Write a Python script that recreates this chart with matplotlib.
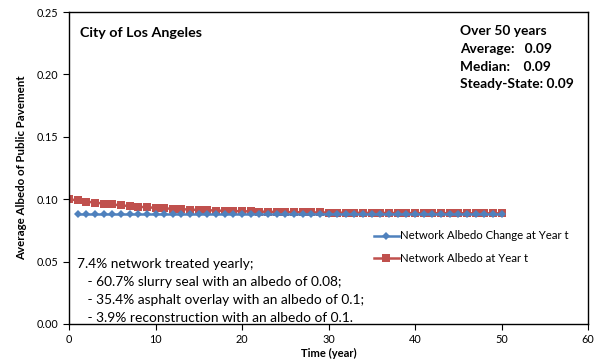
import matplotlib
matplotlib.use("Agg")
import matplotlib.pyplot as plt
from matplotlib.ticker import MultipleLocator, FormatStrFormatter

plt.rcParams['font.family'] = ['Lato', 'DejaVu Sans']

years_red = list(range(0, 51))
albedo_red = [0.1000, 0.0990, 0.0981, 0.0973, 0.0965, 0.0958, 0.0951, 0.0945, 0.0940, 0.0935,
              0.0931, 0.0927, 0.0923, 0.0920, 0.0917, 0.0914, 0.0912, 0.0909, 0.0907, 0.0905,
              0.0904, 0.0902, 0.0901, 0.0899, 0.0898, 0.0897, 0.0896, 0.0895, 0.0894, 0.0894,
              0.0893, 0.0892, 0.0892, 0.0891, 0.0891, 0.0890, 0.0890, 0.0890, 0.0889, 0.0889,
              0.0889, 0.0888, 0.0888, 0.0888, 0.0888, 0.0888, 0.0887, 0.0887, 0.0887, 0.0887,
              0.0887]
years_blue = list(range(1, 51))
albedo_blue = [0.0880] * 50

label_blue = "Network Albedo Change at Year t"
label_red = "Network Albedo at Year t"
x_ticks = [0, 10, 20, 30, 40, 50, 60]

fig = plt.figure(figsize=(5.96, 3.64), dpi=100)
ax = fig.add_axes([0.1158, 0.1099, 0.8708, 0.857])

ax.plot(years_blue, albedo_blue, color='#4F81BD', lw=1.8, marker='D', ms=4.0,
        markeredgewidth=0, label=label_blue, zorder=3)
ax.plot(years_red, albedo_red, color='#C0504D', lw=1.8, marker='s', ms=5.6,
        markeredgewidth=0, label=label_red, zorder=2)

ax.set_xlim(0, 60)
ax.set_ylim(0, 0.25)
ax.set_xticks(x_ticks)
ax.yaxis.set_major_locator(MultipleLocator(0.05))
ax.yaxis.set_major_formatter(FormatStrFormatter('%.2f'))
ax.tick_params(axis='both', direction='out', length=4, width=0.8, labelsize=7.8, colors='black')
ax.tick_params(axis='x', pad=3)
for s in ax.spines.values():
    s.set_linewidth(1.0)
    s.set_color('black')

ax.set_xlabel('Time (year)', fontsize=8, fontweight='bold', labelpad=2)
ax.set_ylabel('Average Albedo of Public Pavement', fontsize=8.3, fontweight='bold', labelpad=7)

ax.text(0.021, 0.933, 'City of Los Angeles', transform=ax.transAxes, fontsize=10.3,
        fontweight='bold', va='center', ha='left')
right_lines = ['Over 50 years', 'Average:   0.09', 'Median:    0.09', 'Steady-State: 0.09']
for i, t in enumerate(right_lines):
    ax.text(0.754, 0.938 - i * 0.0567, t, transform=ax.transAxes, fontsize=9.9,
            fontweight='bold', va='center', ha='left')

left_lines = ['7.4% network treated yearly;', '   - 60.7% slurry seal with an albedo of 0.08;',
              '   - 35.4% asphalt overlay with an albedo of 0.1;',
              '   - 3.9% reconstruction with an albedo of 0.1.']
for i, t in enumerate(left_lines):
    ax.text(0.015, 0.193 - i * 0.0577, t, transform=ax.transAxes, fontsize=9.9,
            va='center', ha='left')

ax.legend(loc='upper left', bbox_to_anchor=(0.576, 0.318), frameon=False, fontsize=8.2,
          handlelength=2.2, handletextpad=0.1, labelspacing=1.0, borderpad=0)

fig.savefig('out.png', dpi=100)
